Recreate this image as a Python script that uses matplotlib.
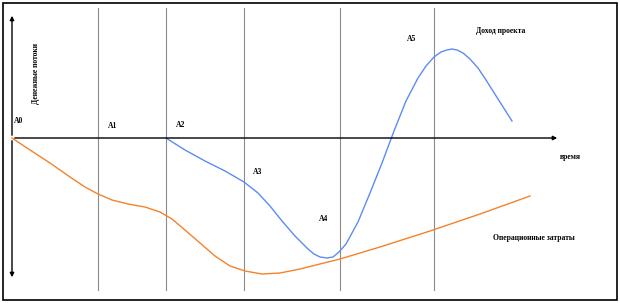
import matplotlib.pyplot as plt

# time axis in picture units, value axis downward (screen-like)
blue_x = [166, 185, 205, 225, 244, 258, 270, 282, 295, 308, 314, 320, 327, 333, 339, 346, 358,
          370, 382, 394, 406, 418, 426, 434, 441, 447, 452, 457, 463, 470, 478, 486, 498, 512]
blue_y = [138, 150, 161, 171, 182, 193, 206, 221, 236, 249, 254, 257, 258, 257, 252, 244, 222,
          193, 163, 131, 101, 78, 66, 57, 52, 50, 49, 50, 53, 59, 68, 80, 99, 121]

orange_x = [12, 30, 50, 70, 85, 98, 112, 128, 145, 160, 172, 185, 200, 215, 230,
            245, 262, 280, 300, 320, 340, 380, 430, 480, 530]
orange_y = [138, 150, 163, 177, 187, 194, 200, 204, 207, 212, 219, 230, 243, 256, 266,
            271, 274, 273, 269, 264, 259, 247, 231, 214, 196]

stage_x = [98, 166, 244, 340, 434]
stage_labels = ["A0", "A1", "A2", "A3", "A4", "A5"]
label_pos = [(14, 121), (108, 126), (176, 125), (253, 172), (319, 219), (407, 39)]

fig = plt.figure(figsize=(6.2, 3.03), dpi=100)
ax = fig.add_axes([0, 0, 1, 1])
ax.set_xlim(0, 620)
ax.set_ylim(303, 0)
ax.axis("off")

# frame
ax.add_patch(plt.Rectangle((2.5, 2.5), 614, 297, fill=False, lw=1.2, ec="black"))

# stage lines
for x in stage_x:
    ax.plot([x, x], [8, 290], color="#8c8c8c", lw=0.8)

# axes arrows
ax.annotate("", xy=(560, 138), xytext=(12, 138),
            arrowprops=dict(arrowstyle="-|>", color="black", lw=1, mutation_scale=6))
ax.annotate("", xy=(12, 13), xytext=(12, 138),
            arrowprops=dict(arrowstyle="-|>", color="black", lw=1, mutation_scale=6))
ax.annotate("", xy=(12, 280), xytext=(12, 138),
            arrowprops=dict(arrowstyle="-|>", color="black", lw=1, mutation_scale=6))

ax.plot(orange_x, orange_y, color="#f5822a", lw=1)
ax.plot(blue_x, blue_y, color="#5b8cf5", lw=1)

font = dict(family="Liberation Serif", fontweight="bold", fontsize=5.5)
for lab, (x, y) in zip(stage_labels, label_pos):
    ax.text(x, y, lab, ha="left", va="center", **font)

ax.text(36, 74, "Денежные потоки", rotation=90, ha="center", va="center", **font)
ax.text(476, 31, "Доход проекта", ha="left", va="center", **font)
ax.text(560, 157, "время", ha="left", va="center", **font)
ax.text(493, 238, "Операционные затраты", ha="left", va="center", **font)

fig.savefig("out.png", dpi=100)
